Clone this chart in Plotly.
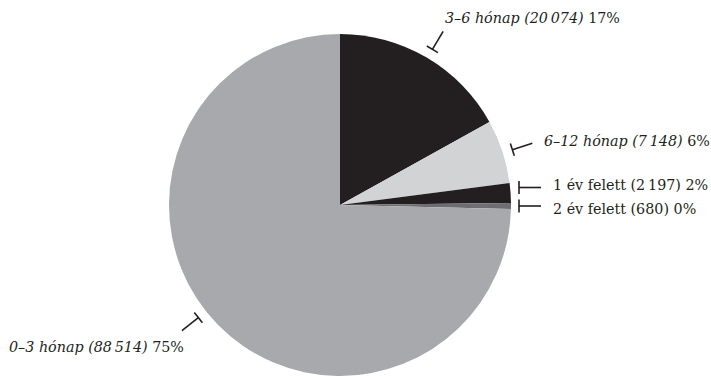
import math
import plotly.graph_objects as go

# Duration of pending cases
categories = ["0–3 hónap", "3–6 hónap", "6–12 hónap", "1 év felett", "2 év felett"]
counts = [88514, 20074, 7148, 2197, 680]
percents = [75, 17, 6, 2, 0]
italic_name = [True, True, True, False, False]

# slice order going clockwise from 12 o'clock
pie_order = [1, 2, 3, 4, 0]
slice_colors = {
    "0–3 hónap": "#a7a9ac",
    "3–6 hónap": "#231f20",
    "6–12 hónap": "#d1d3d4",
    "1 év felett": "#231f20",
    "2 év felett": "#6d6e71",
}

W, H = 711, 376
CX, CY, R = 340, 205, 171
INK = "#231f20"
FONT = "DejaVu Serif"
FONT_SIZE = 14.3


def paper(x, y):
    return x / W, 1 - y / H


def fmt_count(n):
    return f"{n:,}".replace(",", "\u2009")


# leader lines: radial ones by angle (deg clockwise from top), others horizontal
leaders = {
    "0–3 hónap": dict(kind="radial", angle=231.5),
    "3–6 hónap": dict(kind="radial", angle=30.7),
    "6–12 hónap": dict(kind="radial", angle=72.2),
    "1 év felett": dict(kind="flat", x0=519, x1=541, y=187.5),
    "2 év felett": dict(kind="flat", x0=519, x1=541, y=206),
}
# label text placement (pixel anchor, alignment)
label_pos = {
    "0–3 hónap": dict(x=186, y=346.5, xanchor="right"),
    "3–6 hónap": dict(x=443, y=17.5, xanchor="left"),
    "6–12 hónap": dict(x=542, y=140.5, xanchor="left"),
    "1 év felett": dict(x=551, y=184.5, xanchor="left"),
    "2 év felett": dict(x=551, y=209, xanchor="left"),
}

fig = go.Figure()

x0, y_top = paper(CX - R, CY - R)
x1, y_bot = paper(CX + R, CY + R)
fig.add_trace(go.Pie(
    labels=[categories[i] for i in pie_order],
    values=[counts[i] for i in pie_order],
    marker=dict(colors=[slice_colors[categories[i]] for i in pie_order],
                line=dict(width=0)),
    sort=False,
    direction="clockwise",
    rotation=0,
    textinfo="none",
    hoverinfo="none",
    showlegend=False,
    domain=dict(x=[x0, x1], y=[max(0, y_bot), y_top]),
))

shapes = []
annotations = []
BAR = 6.5
for i, name in enumerate(categories):
    spec = leaders[name]
    if spec["kind"] == "radial":
        a = math.radians(spec["angle"])
        ux, uy = math.sin(a), -math.cos(a)
        tx, ty = CX + 181 * ux, CY + 181 * uy
        ex, ey = CX + 202 * ux, CY + 202 * uy
        bx, by = -uy, ux
    else:
        tx, ty = spec["x0"], spec["y"]
        ex, ey = spec["x1"], spec["y"]
        bx, by = 0, 1
    for (ax, ay, bx2, by2) in [
        (tx, ty, ex, ey),
        (tx - BAR * bx, ty - BAR * by, tx + BAR * bx, ty + BAR * by),
    ]:
        p0 = paper(ax, ay)
        p1 = paper(bx2, by2)
        shapes.append(dict(type="line", xref="paper", yref="paper",
                           x0=p0[0], y0=p0[1], x1=p1[0], y1=p1[1],
                           line=dict(color=INK, width=1.6)))

    name_txt = f"{name} ({fmt_count(counts[i])})"
    if italic_name[i]:
        name_txt = f"<i>{name_txt}</i>"
    text = f"{name_txt} {percents[i]}%"
    lp = label_pos[name]
    px, py = paper(lp["x"], lp["y"])
    annotations.append(dict(
        x=px, y=py, xref="paper", yref="paper", text=text, showarrow=False,
        xanchor=lp["xanchor"], yanchor="middle",
        font=dict(family=FONT, size=FONT_SIZE, color=INK),
    ))

fig.update_layout(
    width=W, height=H,
    margin=dict(l=0, r=0, t=0, b=0),
    paper_bgcolor="white",
    plot_bgcolor="white",
    shapes=shapes,
    annotations=annotations,
)

fig.write_html("out.html")
